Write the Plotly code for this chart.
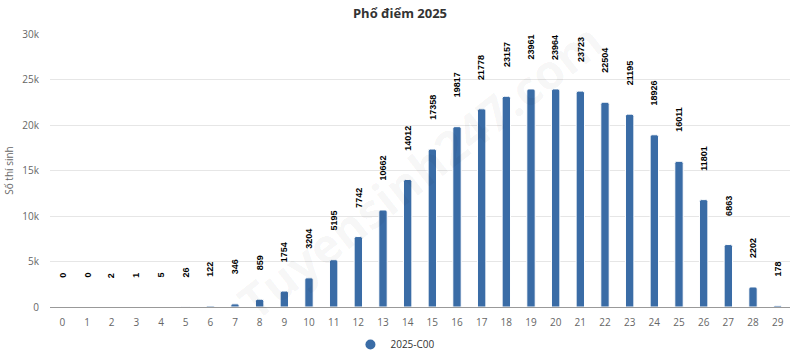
import plotly.graph_objects as go

scores = list(range(30))
counts = [0, 0, 2, 1, 5, 26, 122, 346, 859, 1754, 3204, 5195, 7742, 10662, 14012,
          17358, 19817, 21778, 23157, 23961, 23964, 23723, 22504, 21195, 18926,
          16011, 11801, 6863, 2202, 178]
series_name = "2025-C00"
title = "Phổ điểm 2025"
y_title = "Số thí sinh"
y_ticks = [0, 5000, 10000, 15000, 20000, 25000, 30000]
y_ticktext = ["0", "5k", "10k", "15k", "20k", "25k", "30k"]

bar_color = "#3a6ca6"

fig = go.Figure()
fig.add_trace(go.Bar(
    x=scores, y=counts, name=series_name, showlegend=False,
    marker=dict(color=bar_color, line=dict(color="white", width=1), cornerradius=2),
    width=0.34,
))
fig.add_trace(go.Scatter(
    x=[None], y=[None], mode="markers", name=series_name,
    marker=dict(color=bar_color, size=10, symbol="circle"),
))

for s, c in zip(scores, counts):
    fig.add_annotation(
        x=s, y=c, text="<b>" + str(c) + "</b>", showarrow=False, textangle=-90,
        yanchor="bottom", xanchor="center", yshift=27,
        font=dict(family="Liberation Sans Narrow, Liberation Sans, Arial", size=9, color="#000000"),
    )

# watermark
fig.add_annotation(
    x=0.5, y=0.5, xref="paper", yref="paper", text="<b>Tuyensinh247.com</b>",
    showarrow=False, textangle=-38,
    font=dict(family="Open Sans, Arial", size=48, color="rgba(0,0,0,0.045)"),
)

fig.update_layout(
    width=800, height=356,
    margin=dict(l=50, r=10, t=34, b=49, autoexpand=False),
    paper_bgcolor="white", plot_bgcolor="white",
    title=dict(text="<b>" + title + "</b>", x=0.5, xanchor="center", y=0.974, yanchor="top",
               font=dict(family="Open Sans, Noto Sans, Arial", size=13, color="#333333")),
    font=dict(family="Open Sans, Noto Sans, Arial", size=10, color="#666666"),
    legend=dict(orientation="h", x=0.406, xanchor="left", y=-0.084, yanchor="top",
                font=dict(size=10, color="#333333")),
    xaxis=dict(
        tickmode="array", tickvals=scores, ticktext=[str(s) for s in scores],
        range=[-0.5, 29.5], showgrid=False, showline=True, linecolor="#999999", linewidth=1,
        ticks="", ticklabelstandoff=6, zeroline=False, automargin=False,
        tickfont=dict(size=10, color="#666666"),
    ),
    yaxis=dict(
        range=[0, 30000], tickvals=y_ticks, ticktext=y_ticktext,
        showgrid=True, gridcolor="#e6e6e6", gridwidth=1, zeroline=False, automargin=False,
        ticklabelstandoff=10, tickfont=dict(size=10, color="#666666"),
        title=dict(text=y_title, font=dict(size=10, color="#666666"), standoff=6),
    ),
)

fig.write_html("out.html", config={"displayModeBar": False},
               post_script="document.body.style.margin='0';document.body.style.overflow='hidden';")
